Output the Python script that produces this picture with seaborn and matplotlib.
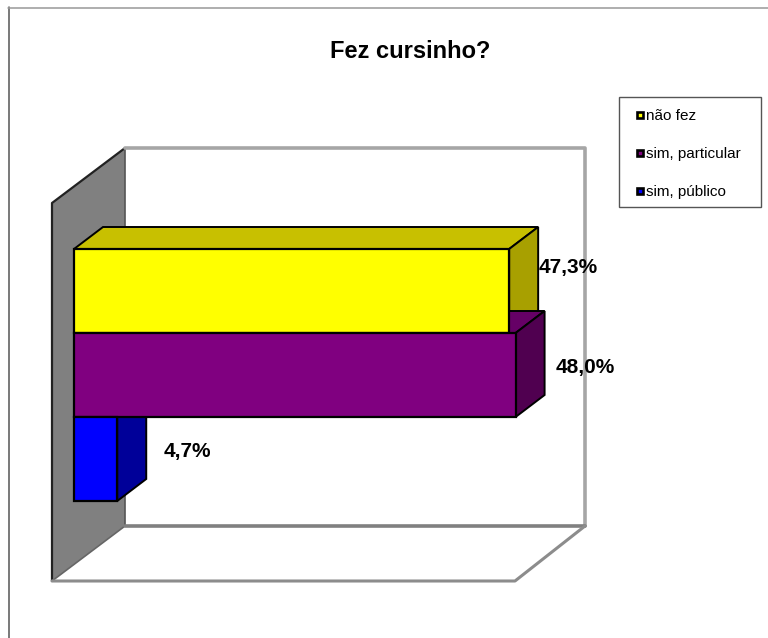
import matplotlib
matplotlib.use("Agg")
import matplotlib.pyplot as plt
from matplotlib.lines import Line2D
from matplotlib.patches import Polygon, Rectangle
import pandas as pd
import seaborn as sns

categories = ["não fez", "sim, particular", "sim, público"]
percent = [47.3, 48.0, 4.7]
value_labels = ["47,3%", "48,0%", "4,7%"]
front_colors = ["#FFFF00", "#800080", "#0000FF"]
top_colors = ["#C8C000", "#660066", "#0000CC"]
side_colors = ["#A8A000", "#500050", "#000099"]

W, H = 768, 638
sns.set_theme(style="white")
plt.rcParams["font.family"] = ["Liberation Sans", "DejaVu Sans"]

df = pd.DataFrame({"categoria": categories, "pct": percent})

fig = plt.figure(figsize=(W / 100, H / 100), dpi=100)
ax = fig.add_axes([0, 0, 1, 1])

sns.barplot(data=df, x="pct", y="categoria", hue="categoria", palette=front_colors,
            order=categories, hue_order=categories, orient="h", width=1.0, dodge=False,
            saturation=1, legend=False, edgecolor="black", linewidth=1.6, zorder=10, ax=ax)

# one percent = 9.2 px, one category = 84 px, zero line at x=74, first bar centre at y=291
sx, sy = 9.2, 84.0
ax.set_xlim(-74 / sx, (W - 74) / sx)
ax.set_ylim((H - 291) / sy, -291 / sy)
ax.axis("off")


def px(x, y):
    return (x - 74) / sx, (y - 291) / sy


# chart border, only top and left show
fig.add_artist(Line2D([8.5 / W, 8.5 / W], [1 - 7 / H, 0], color="#555555", lw=1.1))
fig.add_artist(Line2D([8 / W, 1], [1 - 7.5 / H, 1 - 7.5 / H], color="#999999", lw=1.1))

# grey wall, back plane and floor
ax.add_patch(Polygon([px(52, 203), px(125, 148), px(125, 526), px(52, 581)], closed=True,
                     facecolor="#808080", edgecolor="none", zorder=1))
ax.plot(*zip(px(52, 581), px(52, 203), px(125, 148)), color="#222222", lw=1.6, zorder=2)
ax.plot(*zip(px(125, 148), px(125, 526)), color="#555555", lw=1.2, zorder=2)
ax.plot(*zip(px(125, 526), px(52, 581)), color="#666666", lw=1.2, zorder=2)
ax.plot(*zip(px(125, 148), px(585, 148), px(585, 526)), color="#A6A6A6", lw=2.6, zorder=2)
ax.plot(*zip(px(125, 526), px(585, 526)), color="#808080", lw=2.6, zorder=2)
ax.plot(*zip(px(585, 526), px(515, 581), px(52, 581)), color="#8C8C8C", lw=2.2, zorder=2)

# extruded faces taken from the bars, fronts stay on top
dx, dy = 29 / sx, -22 / sy
for i, bar in enumerate(ax.patches[:len(categories)]):
    x0, x1 = bar.get_x(), bar.get_x() + bar.get_width()
    y0, y1 = bar.get_y(), bar.get_y() + bar.get_height()
    ax.add_patch(Polygon([(x0, y0), (x1, y0), (x1 + dx, y0 + dy), (x0 + dx, y0 + dy)], closed=True,
                         facecolor=top_colors[i], edgecolor="black", lw=1.4, zorder=3 + i))
    ax.add_patch(Polygon([(x1, y0), (x1 + dx, y0 + dy), (x1 + dx, y1 + dy), (x1, y1)], closed=True,
                         facecolor=side_colors[i], edgecolor="black", lw=1.4, zorder=3 + i))

# value labels
label_px = [(568, 268), (585, 367), (187, 451)]
for txt, (lx, ly) in zip(value_labels, label_px):
    ax.text(*px(lx, ly), txt, ha="center", va="center", fontsize=15, fontweight="bold",
            color="black", zorder=20)

fig.text(410 / W, 1 - 52 / H, "Fez cursinho?", ha="center", va="center", fontsize=17,
         fontweight="bold", color="black")

# legend frame drawn apart, its box is wider than the padding would give
fig.add_artist(Rectangle((618.5 / W, 1 - 207 / H), 142.5 / W, 110 / H, transform=fig.transFigure,
                         facecolor="white", edgecolor="#555555", lw=1.0, zorder=-1))
handles = [Line2D([], [], linestyle="none", marker="s", markersize=4.8, markerfacecolor=c,
                  markeredgecolor="black", markeredgewidth=1.9) for c in front_colors]
leg = ax.legend(handles, categories, loc="upper left",
                bbox_to_anchor=(635 / W, 1 - 109 / H), bbox_transform=fig.transFigure,
                borderaxespad=0, fontsize=11, frameon=False, labelspacing=1.58,
                handlelength=0.65, handletextpad=0.08, borderpad=0, labelcolor="black")
leg.set_zorder(30)

fig.savefig("out.png", dpi=100, facecolor="white")
